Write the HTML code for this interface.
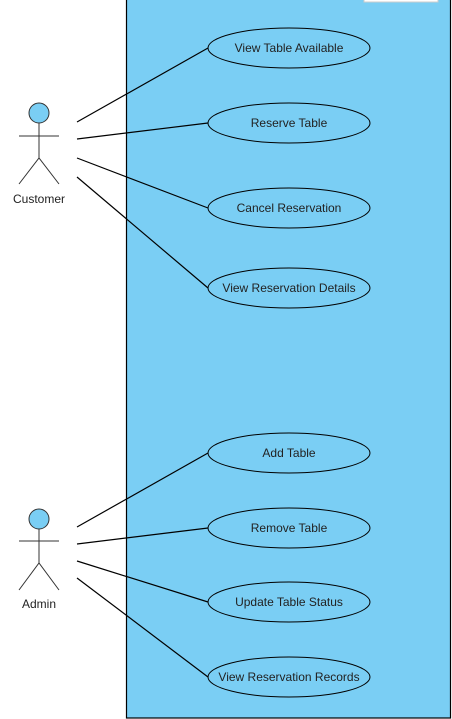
<!DOCTYPE html>
<html><head><style>html,body{margin:0;padding:0;background:#fff;}svg{display:block}</style></head>
<body>
<svg width="452" height="719" xmlns="http://www.w3.org/2000/svg" font-family="Liberation Sans, Arial, sans-serif" font-size="12" fill="#000">
<rect x="126.5" y="-5" width="324" height="723" fill="#7ACEF4" stroke="#000" stroke-width="1.2"/>
<rect x="364" y="-5" width="74" height="7" fill="#fff" stroke="#ccc" stroke-width="1"/>
<g stroke="#000" stroke-width="1.2" fill="none">
<line x1="77" y1="122" x2="208" y2="48"/>
<line x1="77" y1="139" x2="208" y2="123"/>
<line x1="77" y1="158" x2="208" y2="208"/>
<line x1="77" y1="177" x2="208" y2="288"/>
<line x1="77" y1="527" x2="208" y2="453"/>
<line x1="77" y1="544" x2="208" y2="528"/>
<line x1="77" y1="561" x2="208" y2="602"/>
<line x1="77" y1="578" x2="208" y2="677"/>
</g>
<g fill="#7ACEF4" stroke="#000" stroke-width="1">
<ellipse cx="289" cy="48" rx="81" ry="20"/>
<ellipse cx="289" cy="123" rx="81" ry="20"/>
<ellipse cx="289" cy="208" rx="81" ry="20"/>
<ellipse cx="289" cy="288" rx="81" ry="20"/>
<ellipse cx="289" cy="453" rx="81" ry="20"/>
<ellipse cx="289" cy="528" rx="81" ry="20"/>
<ellipse cx="289" cy="602" rx="81" ry="20"/>
<ellipse cx="289" cy="677" rx="81" ry="20"/>
</g>
<g text-anchor="middle" fill="#222">
<text x="289" y="52">View Table Available</text>
<text x="289" y="127">Reserve Table</text>
<text x="289" y="212">Cancel Reservation</text>
<text x="289" y="292">View Reservation Details</text>
<text x="289" y="457">Add Table</text>
<text x="289" y="532">Remove Table</text>
<text x="289" y="606">Update Table Status</text>
<text x="289" y="681">View Reservation Records</text>
</g>
<g stroke="#333" stroke-width="1" fill="none">
<circle cx="39" cy="113" r="10" fill="#7ACEF4"/>
<line x1="39" y1="123" x2="39" y2="158"/>
<line x1="19" y1="136" x2="59" y2="136"/>
<polyline points="19,184 39,158 59,184"/>
<circle cx="39" cy="519" r="10" fill="#7ACEF4"/>
<line x1="39" y1="529" x2="39" y2="563"/>
<line x1="19" y1="541" x2="59" y2="541"/>
<polyline points="19,590 39,563 59,590"/>
</g>
<g text-anchor="middle" fill="#222">
<text x="39" y="203">Customer</text>
<text x="39" y="608">Admin</text>
</g>
</svg>
</body></html>
